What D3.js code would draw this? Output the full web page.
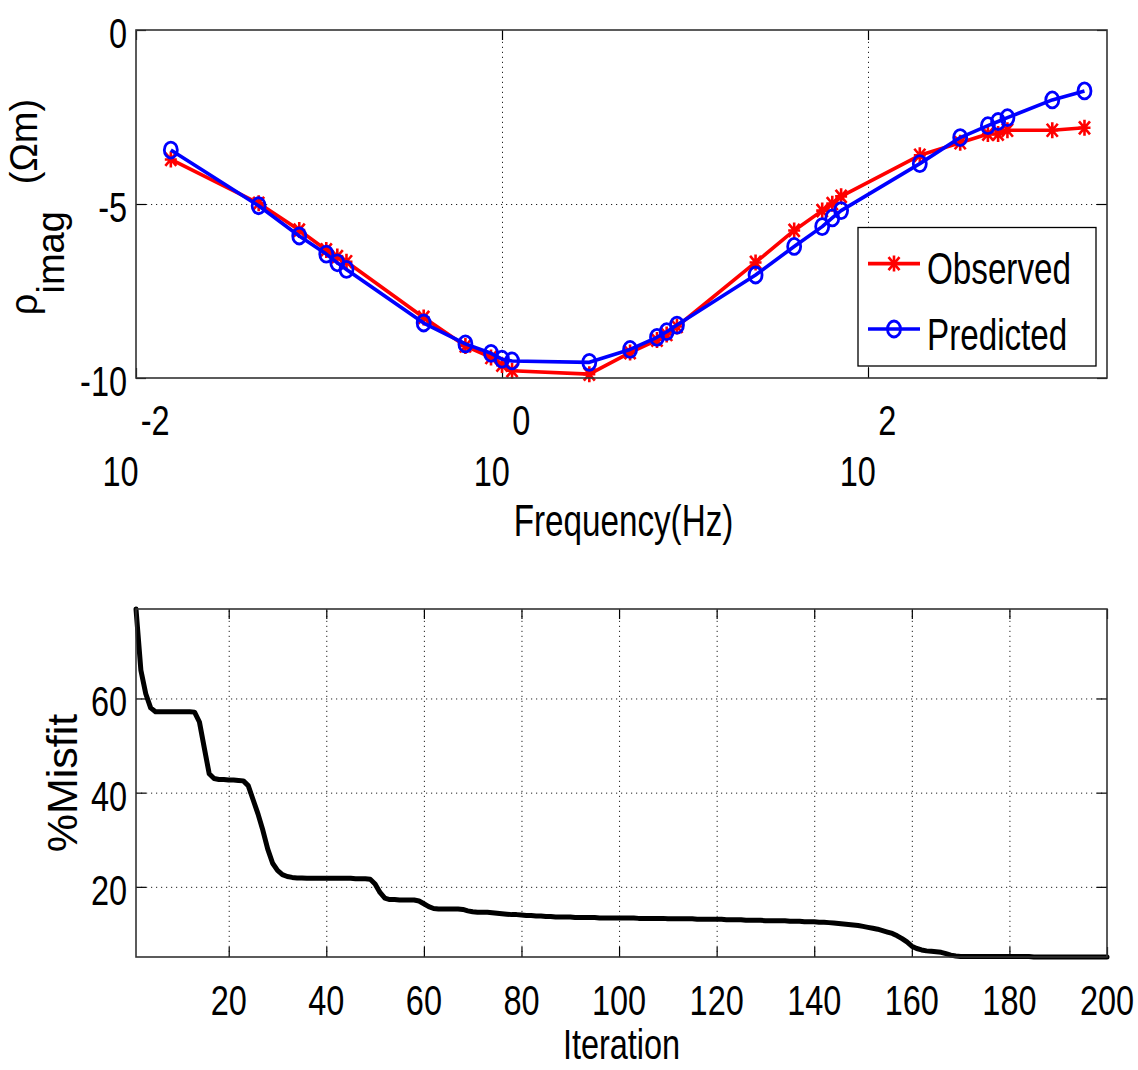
<!DOCTYPE html>
<html>
<head>
<meta charset="utf-8">
<script src="https://cdn.jsdelivr.net/npm/d3@7"></script>
<style>
  html, body { margin: 0; padding: 0; background: #fff; }
  svg { display: block; }
  text { font-family: "Liberation Sans", Arial, Helvetica, sans-serif; fill: #000; }
</style>
</head>
<body>
<svg id="chart" width="1138" height="1070"></svg>
<script>
// ---------------- DATA ----------------
const frequencies = [0.0155, 0.0468, 0.078, 0.1096, 0.1259, 0.1413, 0.3733, 0.631, 0.871, 1.0,
  1.135, 3.0, 5.01, 7.03, 7.94, 9.04, 24.3, 39.5, 56.2, 63.8, 71.3, 191.9, 319, 452, 514, 578, 1016, 1524];
const observed = [-3.72, -4.98, -5.75, -6.32, -6.51, -6.66, -8.26, -9.08, -9.41, -9.63,
  -9.79, -9.89, -9.27, -8.91, -8.75, -8.52, -6.68, -5.76, -5.19, -4.99, -4.78, -3.60, -3.24, -2.99, -2.99, -2.88, -2.88, -2.81];
const predicted = [-3.45, -5.05, -5.92, -6.44, -6.69, -6.88, -8.42, -9.02, -9.29, -9.46,
  -9.51, -9.55, -9.18, -8.83, -8.67, -8.48, -7.04, -6.22, -5.65, -5.40, -5.19, -3.84, -3.09, -2.75, -2.63, -2.52, -2.01, -1.75];
const freqDomain = [0.01, 2023];
const freqTicks = [0.01, 1, 100];
const freqTickExponents = ["-2", "0", "2"];
const rhoDomain = [-10, 0];
const rhoTicks = [-10, -5, 0];
const rhoTickLabels = ["-10", "-5", "0"];
const seriesNames = ["Observed", "Predicted"];

const misfit = [
  79.0, 66.0, 61.0, 58.0, 57.2, 57.2, 57.2, 57.2, 57.2, 57.2,
  57.2, 57.2, 57.1, 55.0, 49.5, 44.0, 43.0, 42.8, 42.8, 42.7,
  42.7, 42.6, 42.5, 41.5, 38.5, 35.5, 32.0, 28.0, 25.0, 23.5,
  22.6, 22.2, 22.0, 21.9, 21.9, 21.8, 21.8, 21.8, 21.8, 21.8,
  21.8, 21.8, 21.8, 21.8, 21.8, 21.7, 21.7, 21.7, 21.6, 20.6,
  18.8, 17.6, 17.3, 17.3, 17.2, 17.2, 17.2, 17.2, 17.0, 16.4,
  15.8, 15.4, 15.3, 15.3, 15.3, 15.3, 15.3, 15.2, 14.9, 14.7,
  14.6, 14.6, 14.6, 14.5, 14.4, 14.3, 14.2, 14.1, 14.1, 14.0,
  13.9, 13.9, 13.8, 13.8, 13.7, 13.7, 13.6, 13.6, 13.6, 13.6,
  13.5, 13.5, 13.5, 13.5, 13.5, 13.4, 13.4, 13.4, 13.4, 13.4,
  13.4, 13.4, 13.4, 13.3, 13.3, 13.3, 13.3, 13.3, 13.3, 13.2,
  13.2, 13.2, 13.2, 13.2, 13.2, 13.1, 13.1, 13.1, 13.1, 13.1,
  13.1, 13.0, 13.0, 13.0, 13.0, 12.9, 12.9, 12.9, 12.9, 12.8,
  12.8, 12.8, 12.8, 12.8, 12.7, 12.7, 12.7, 12.6, 12.6, 12.6,
  12.5, 12.5, 12.4, 12.3, 12.2, 12.1, 12.0, 11.9, 11.8, 11.6,
  11.4, 11.2, 11.0, 10.7, 10.4, 10.1, 9.6, 9.0, 8.3, 7.4,
  6.9, 6.6, 6.4, 6.3, 6.2, 6.1, 5.8, 5.5, 5.3, 5.2,
  5.2, 5.2, 5.2, 5.2, 5.2, 5.2, 5.2, 5.2, 5.2, 5.2,
  5.2, 5.2, 5.2, 5.2, 5.1, 5.1, 5.1, 5.1, 5.1, 5.1,
  5.1, 5.1, 5.1, 5.1, 5.1, 5.1, 5.1, 5.1, 5.1, 5.1
];
const iterations = d3.range(1, misfit.length + 1);
const iterTicks = [20, 40, 60, 80, 100, 120, 140, 160, 180, 200];
const misfitTicks = [20, 40, 60];

// ---------------- LAYOUT ----------------
const svg = d3.select("#chart");
const SX = 0.755;          // horizontal squeeze of the original figure's text
const FS = 43;
const TICK = 10;

function htext(sel, x, y, str, anchor, size) {
  return sel.append("text")
    .attr("transform", `translate(${x},${y}) scale(${SX},1)`)
    .attr("text-anchor", anchor)
    .attr("font-size", size || FS)
    .text(str);
}

// ---------- TOP PANEL ----------
const T = { l: 136, r: 1107, t: 30, b: 378 };
const x1 = d3.scaleLog().domain(freqDomain).range([T.l, T.r]);
const y1 = d3.scaleLinear().domain(rhoDomain).range([T.b, T.t]);
const g1 = svg.append("g");

g1.append("g").attr("transform", `translate(0,${T.b})`)
  .call(d3.axisBottom(x1).tickValues(freqTicks.filter(v => v > freqDomain[0])).tickSize(-(T.b - T.t)).tickFormat(""))
  .call(g => g.select(".domain").remove())
  .call(g => g.selectAll("line").attr("stroke", "#222").attr("stroke-width", 1).attr("stroke-dasharray", "1.2,3.8"));
g1.append("g").attr("transform", `translate(${T.l},0)`)
  .call(d3.axisLeft(y1).tickValues(rhoTicks.filter(v => v > rhoDomain[0] && v < rhoDomain[1])).tickSize(-(T.r - T.l)).tickFormat(""))
  .call(g => g.select(".domain").remove())
  .call(g => g.selectAll("line").attr("stroke", "#222").attr("stroke-width", 1).attr("stroke-dasharray", "1.2,3.8"));

function insideTicks(g, xs, ys, xVals, yVals, box) {
  g.append("g").attr("transform", `translate(0,${box.b})`).call(d3.axisTop(xs).tickValues(xVals).tickSize(TICK).tickFormat(""))
    .call(a => a.select(".domain").remove()).call(a => a.selectAll("line").attr("stroke", "#000").attr("stroke-width", 1.2));
  g.append("g").attr("transform", `translate(0,${box.t})`).call(d3.axisBottom(xs).tickValues(xVals).tickSize(TICK).tickFormat(""))
    .call(a => a.select(".domain").remove()).call(a => a.selectAll("line").attr("stroke", "#000").attr("stroke-width", 1.2));
  g.append("g").attr("transform", `translate(${box.l},0)`).call(d3.axisRight(ys).tickValues(yVals).tickSize(TICK).tickFormat(""))
    .call(a => a.select(".domain").remove()).call(a => a.selectAll("line").attr("stroke", "#000").attr("stroke-width", 1.2));
  g.append("g").attr("transform", `translate(${box.r},0)`).call(d3.axisLeft(ys).tickValues(yVals).tickSize(TICK).tickFormat(""))
    .call(a => a.select(".domain").remove()).call(a => a.selectAll("line").attr("stroke", "#000").attr("stroke-width", 1.2));
}
insideTicks(g1, x1, y1, freqTicks, rhoTicks, T);

const topData = frequencies.map((f, i) => ({ f, o: observed[i], p: predicted[i] }));
const lineObs = d3.line().x(d => x1(d.f)).y(d => y1(d.o));
const linePred = d3.line().x(d => x1(d.f)).y(d => y1(d.p));
const RED = "#ff0000", BLUE = "#0000ff";
const starPath = "M-5.5,-6.5L5.5,6.5M-5.5,6.5L5.5,-6.5M0,-8V8M-6,0H6";

g1.append("path").datum(topData).attr("d", lineObs).attr("fill", "none")
  .attr("stroke", RED).attr("stroke-width", 3.6).attr("stroke-linejoin", "round");
g1.selectAll(".obs").data(topData).join("path").attr("class", "obs")
  .attr("transform", d => `translate(${x1(d.f)},${y1(d.o)})`)
  .attr("d", starPath).attr("stroke", RED).attr("stroke-width", 2.6).attr("fill", "none");

g1.append("path").datum(topData).attr("d", linePred).attr("fill", "none")
  .attr("stroke", BLUE).attr("stroke-width", 3.6).attr("stroke-linejoin", "round");
g1.selectAll(".pred").data(topData).join("ellipse").attr("class", "pred")
  .attr("cx", d => x1(d.f)).attr("cy", d => y1(d.p)).attr("rx", 6.5).attr("ry", 8)
  .attr("stroke", BLUE).attr("stroke-width", 2.8).attr("fill", "none");

g1.append("rect").attr("x", T.l).attr("y", T.t).attr("width", T.r - T.l).attr("height", T.b - T.t)
  .attr("fill", "none").attr("stroke", "#333").attr("stroke-width", 1.6);

rhoTicks.forEach((v, i) => htext(g1, 127, y1(v) + 18, rhoTickLabels[i], "end"));
freqTicks.forEach((v, i) => {
  const t = g1.append("text")
    .attr("transform", `translate(${x1(v)},486) scale(${SX},1)`)
    .attr("text-anchor", "middle").attr("font-size", FS);
  t.append("tspan").text("10");
  t.append("tspan").attr("dx", 3).attr("dy", -51).text(freqTickExponents[i]);
});
htext(g1, (T.l + T.r) / 2 + 2, 536, "Frequency(Hz)", "middle", 44);

const yl = g1.append("text")
  .attr("transform", `translate(37,207) rotate(-90)`)
  .attr("text-anchor", "middle").attr("font-size", 38);
yl.append("tspan").text("\u03c1");
yl.append("tspan").attr("dy", 27).text("imag");
yl.append("tspan").attr("dy", -27).attr("dx", 27).text("(\u03a9m)");

const L = { x: 858, y: 227.5, w: 238, h: 138.5 };
const lg = g1.append("g");
lg.append("rect").attr("x", L.x).attr("y", L.y).attr("width", L.w).attr("height", L.h)
  .attr("fill", "#fff").attr("stroke", "#000").attr("stroke-width", 1.3);
const legRows = [
  { name: seriesNames[0], color: RED, y: 263.6, base: 284, marker: "star" },
  { name: seriesNames[1], color: BLUE, y: 329, base: 350, marker: "circle" }
];
legRows.forEach(r => {
  lg.append("line").attr("x1", 868).attr("x2", 920).attr("y1", r.y).attr("y2", r.y)
    .attr("stroke", r.color).attr("stroke-width", 3.6);
  if (r.marker === "star") {
    lg.append("path").attr("transform", `translate(894,${r.y})`).attr("d", starPath)
      .attr("stroke", r.color).attr("stroke-width", 2.6).attr("fill", "none");
  } else {
    lg.append("ellipse").attr("cx", 894).attr("cy", r.y).attr("rx", 6.5).attr("ry", 8)
      .attr("stroke", r.color).attr("stroke-width", 2.8).attr("fill", "none");
  }
  htext(lg, 927, r.base, r.name, "start", 44);
});

// ---------- BOTTOM PANEL ----------
const B = { l: 136, r: 1107, t: 609, b: 957 };
const x2 = d3.scaleLinear().domain(d3.extent(iterations)).range([B.l, B.r]);
const y2 = d3.scaleLinear().domain(d3.extent(misfit)).range([B.b, B.t]);
const g2 = svg.append("g");

g2.append("g").attr("transform", `translate(0,${B.b})`)
  .call(d3.axisBottom(x2).tickValues(iterTicks.filter(v => v < 200)).tickSize(-(B.b - B.t)).tickFormat(""))
  .call(g => g.select(".domain").remove())
  .call(g => g.selectAll("line").attr("stroke", "#222").attr("stroke-width", 1).attr("stroke-dasharray", "1.2,3.8"));
g2.append("g").attr("transform", `translate(${B.l},0)`)
  .call(d3.axisLeft(y2).tickValues(misfitTicks).tickSize(-(B.r - B.l)).tickFormat(""))
  .call(g => g.select(".domain").remove())
  .call(g => g.selectAll("line").attr("stroke", "#222").attr("stroke-width", 1).attr("stroke-dasharray", "1.2,3.8"));
insideTicks(g2, x2, y2, iterTicks, misfitTicks, B);

const misData = iterations.map((it, i) => ({ it, v: misfit[i] }));
g2.append("path").datum(misData)
  .attr("d", d3.line().x(d => x2(d.it)).y(d => y2(d.v)))
  .attr("fill", "none").attr("stroke", "#000").attr("stroke-width", 5)
  .attr("stroke-linejoin", "round").attr("stroke-linecap", "round");

g2.append("rect").attr("x", B.l).attr("y", B.t).attr("width", B.r - B.l).attr("height", B.b - B.t)
  .attr("fill", "none").attr("stroke", "#333").attr("stroke-width", 1.6);

misfitTicks.forEach(v => htext(g2, 127, y2(v) + 18, String(v), "end"));
iterTicks.forEach(v => htext(g2, x2(v), 1015, String(v), "middle"));
htext(g2, (B.l + B.r) / 2, 1059, "Iteration", "middle", 43);

g2.append("text").attr("transform", `translate(77,783) rotate(-90)`)
  .attr("text-anchor", "middle").attr("font-size", 43).text("%Misfit");
</script>
</body>
</html>
